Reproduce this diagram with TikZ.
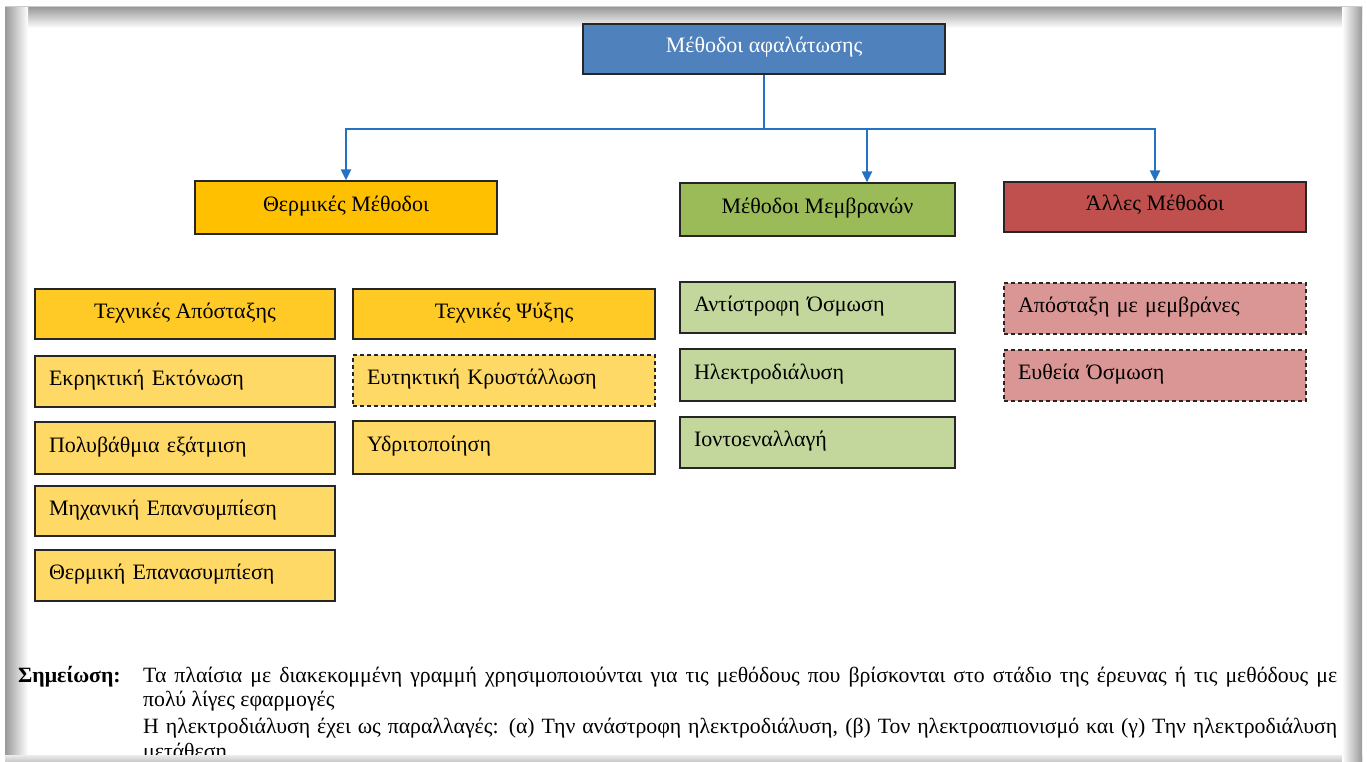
\documentclass[tikz,border=0pt]{standalone}
\usepackage{fontspec}
\setmainfont{Liberation Serif}
\usetikzlibrary{arrows.meta}
\definecolor{topblue}{HTML}{4F81BD}
\definecolor{thermo}{HTML}{FFC000}
\definecolor{thermhead}{HTML}{FFC926}
\definecolor{thermlight}{HTML}{FFD966}
\definecolor{membhead}{HTML}{9BBB59}
\definecolor{memblight}{HTML}{C3D69B}
\definecolor{otherhead}{HTML}{C0504D}
\definecolor{otherlight}{HTML}{D99694}
\definecolor{conncol}{RGB}{36,114,196}
\newcommand\bx[7]{\node[#6, minimum width={(#4-#2)*1pt}, minimum height={(#5-#3)*1pt}] (#1) at ({(#2+#4)/2},{(#3+#5)/2}) {#7};}
\tikzset{
  bx/.style={draw=black!85, line width=1.2pt, inner sep=0pt, text height=14pt, text depth=6pt, font=\fontsize{22}{26}\selectfont},
  lft/.style={text width=#1, align=left},
  dsh/.style={dash pattern=on 4pt off 3pt},
  conn/.style={draw=conncol, line width=2pt},
  arr/.style={conn, -{Triangle[width=10pt,length=11pt]}},
  note/.style={inner sep=0pt, anchor=base west, font=\fontsize{21.8}{26}\selectfont},
}
\begin{document}
\begin{tikzpicture}[x=1pt,y=-1pt]
\useasboundingbox (0,0) rectangle (1367,762);
\fill[white] (0,0) rectangle (1367,762);
% frame shadows
\shade[top color=gray!80, bottom color=white] (5,7) rectangle (1362,28);
\shade[left color=gray!80, right color=white] (5,7) rectangle (28,762);
\shade[left color=white, right color=gray!80] (1342,7) rectangle (1362,762);
\fill[white] (28,28) rectangle (1342,752);
\draw[gray!40, line width=0.6pt] (5,6.5) -- (1362,6.5);

% boxes
\bx{top}{583}{24}{945}{74}{bx, fill=topblue, text=white}{Μέθοδοι αφαλάτωσης}
\bx{therm}{195}{181}{497}{234}{bx, fill=thermo}{Θερμικές Μέθοδοι}
\bx{memb}{680}{183}{955}{236}{bx, fill=membhead}{Μέθοδοι Μεμβρανών}
\bx{other}{1004}{182}{1306}{232}{bx, fill=otherhead}{Άλλες Μέθοδοι}

\bx{dist}{35}{289}{335}{339}{bx, fill=thermhead}{Τεχνικές Απόσταξης}
\bx{cool}{353}{289}{655}{339}{bx, fill=thermhead}{Τεχνικές Ψύξης}

\bx{e1}{35}{356}{335}{407}{bx, fill=thermlight, lft=272pt}{Εκρηκτική Εκτόνωση}
\bx{e2}{35}{422}{335}{474}{bx, fill=thermlight, lft=272pt}{Πολυβάθμια εξάτμιση}
\bx{e3}{35}{486}{335}{536}{bx, fill=thermlight, lft=272pt}{Μηχανική Επανσυμπίεση}
\bx{e4}{35}{550}{335}{601}{bx, fill=thermlight, lft=272pt}{Θερμική Επανασυμπίεση}

\bx{c1}{353}{355}{655}{406}{bx, dsh, fill=thermlight, lft=274pt}{Ευτηκτική Κρυστάλλωση}
\bx{c2}{353}{421}{655}{474}{bx, fill=thermlight, lft=274pt}{Υδριτοποίηση}

\bx{m1}{680}{282}{955}{333}{bx, fill=memblight, lft=247pt}{Αντίστροφη Όσμωση}
\bx{m2}{680}{349}{955}{401}{bx, fill=memblight, lft=247pt}{Ηλεκτροδιάλυση}
\bx{m3}{680}{417}{955}{468}{bx, fill=memblight, lft=247pt}{Ιοντοεναλλαγή}

\bx{o1}{1004}{283}{1306}{334}{bx, dsh, fill=otherlight, lft=274pt}{Απόσταξη με μεμβράνες}
\bx{o2}{1004}{350}{1306}{401}{bx, dsh, fill=otherlight, lft=274pt}{Ευθεία Όσμωση}

% connectors
\draw[conn] (top.south) -- ++(0,54) coordinate (j);
\draw[arr] (j) -| (therm.north);
\draw[arr] (j) -| ([xshift=49.5pt]memb.north);
\draw[arr] (j) -| (other.north);

% note
\node[note, font=\fontsize{21.8}{26}\selectfont\bfseries] (nlab) at (18,682) {Σημείωση:};
\node[note] (n1) at (143,682) {\makebox[1194pt][s]{Τα πλαίσια με διακεκομμένη γραμμή χρησιμοποιούνται για τις μεθόδους που βρίσκονται στο στάδιο της έρευνας ή τις μεθόδους με}};
\node[note] (n2) at (143,706) {πολύ λίγες εφαρμογές};
\node[note] (n3) at (143,733) {\makebox[1194pt][s]{Η ηλεκτροδιάλυση έχει ως παραλλαγές: (α) Την ανάστροφη ηλεκτροδιάλυση, (β) Τον ηλεκτροαπιονισμό και (γ) Την ηλεκτροδιάλυση}};
\node[note] (n4) at (143,758) {μετάθεση};

% bottom edge over the cut-off line
\shade[top color=gray!15, bottom color=gray!45] (5,755) rectangle (1362,762);
\shade[left color=white, right color=gray!80] (1342,755) rectangle (1362,762);
\end{tikzpicture}
\end{document}
